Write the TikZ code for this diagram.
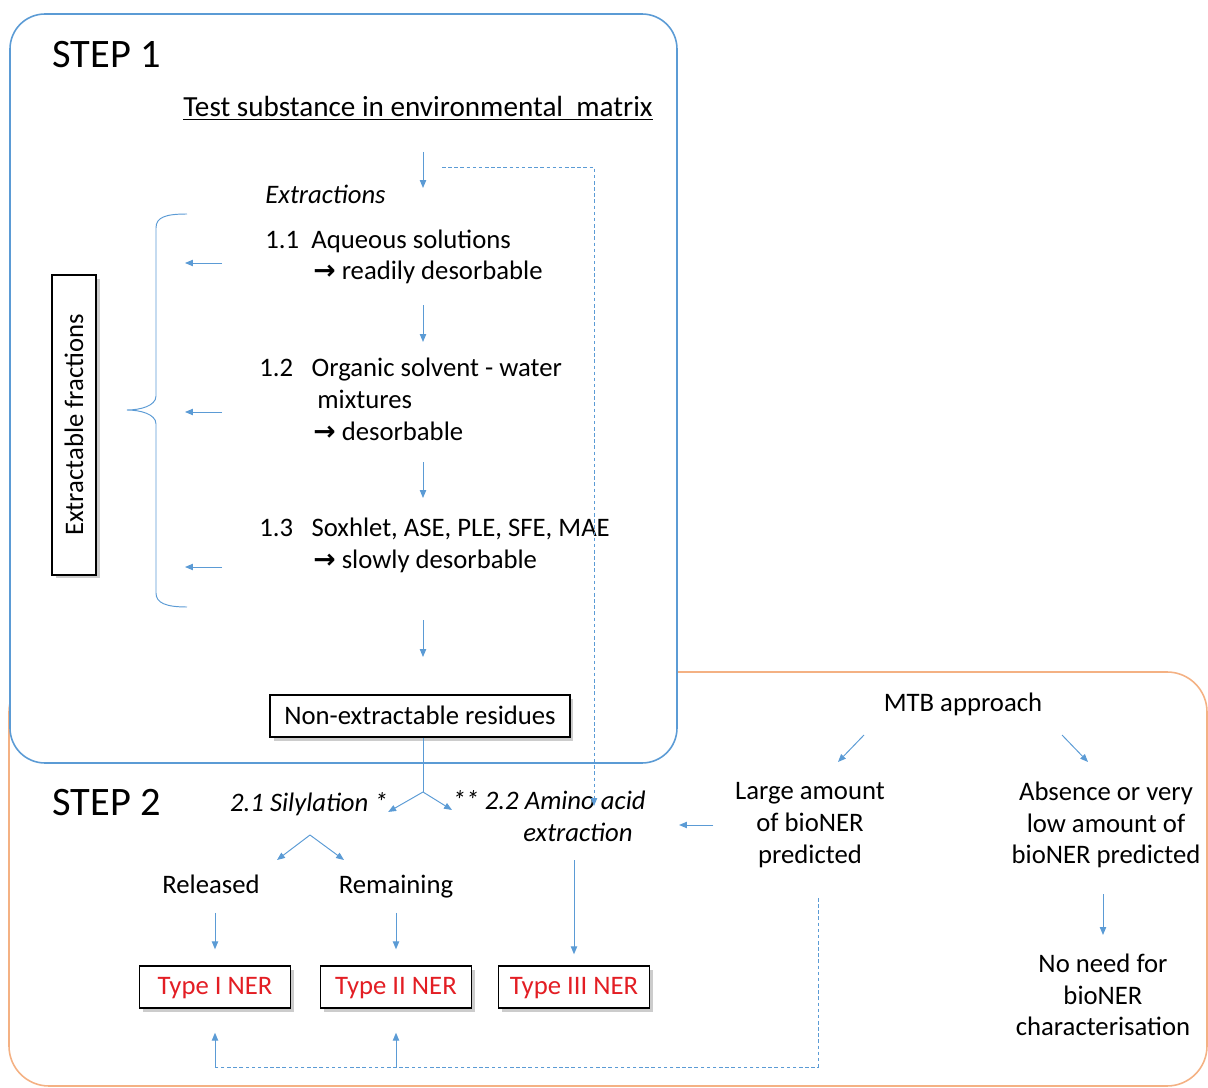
\documentclass[tikz,border=0pt]{standalone}
\usepackage{fontspec}
\usepackage{graphicx}
\setmainfont{Carlito}
\newfontfamily\arrowfont{DejaVu Sans}
\usepackage{tikz}
\usetikzlibrary{arrows.meta}
\usetikzlibrary{shadows}
\definecolor{stepblue}{HTML}{5B9BD5}
\definecolor{linkblue}{HTML}{5B9BD5}
\definecolor{steporange}{HTML}{F4B183}
\definecolor{nerred}{HTML}{E31E24}
\newcommand{\bodyfont}{\fontsize{15.2pt}{18.1pt}\selectfont}
\newcommand{\stepfont}{\fontsize{23pt}{27pt}\selectfont}
\newcommand{\rarr}{{\arrowfont\bfseries →}}

\begin{document}
\begin{tikzpicture}[x=0.02cm,y=-0.02cm]
\tikzstyle{txt}=[inner sep=0pt,font=\bodyfont,text height=9.8pt,text depth=0pt]
\tikzstyle{mtxt}=[inner sep=0pt,font=\bodyfont,align=center]
\tikzstyle{box}=[rectangle,align=center,draw,text depth=.25ex,line width=0.8pt,fill=white,font=\bodyfont,drop shadow={shadow xshift=2pt,shadow yshift=-2pt,opacity=.4}]
\tikzstyle{arr}=[-{Triangle[length=4.5pt,width=3.6pt]},draw=linkblue,line width=0.55pt]
\tikzstyle{dsh}=[draw=linkblue,line width=0.5pt,dash pattern=on 2pt off 1.5pt]
\useasboundingbox (0,0) rectangle (1208,1088);
\draw[steporange,line width=0.9pt,rounded corners=0.8cm] (9,672) rectangle (1207,1086);
\draw[stepblue,line width=0.9pt,rounded corners=0.7cm,fill=white] (10,14) rectangle (677,763);
\node[inner sep=0pt,font=\stepfont,anchor=west] (step1) at (52,55) {STEP 1};
\node[inner sep=0pt,font=\fontsize{16.6pt}{19pt}\selectfont] (test) at (418,108) {\underline{Test substance in environmental\ \ matrix}};
\node[txt,anchor=west] (extr) at (265,195) {\textit{Extractions}};
\node[txt,anchor=west] (l11) at (265,240) {1.1\hspace{7pt}Aqueous solutions};
\node[txt,anchor=west] (l12) at (313,271) {\rarr\ readily desorbable};
\node[txt,anchor=west] (l21) at (259,368) {1.2\hspace{10.5pt}Organic solvent - water};
\node[txt,anchor=west] (l22) at (317,400) {mixtures};
\node[txt,anchor=west] (l23) at (313,432) {\rarr\ desorbable};
\node[txt,anchor=west] (l31) at (259,528) {1.3\hspace{10.5pt}Soxhlet, ASE, PLE, SFE, MAE};
\node[txt,anchor=west] (l32) at (313,560) {\rarr\ slowly desorbable};
\node[box,minimum width=0.88cm,minimum height=6cm,inner sep=0pt,text depth=0pt] (frac) at (74,425) {\rotatebox{90}{Extractable fractions}};
\node[box,minimum width=6cm,minimum height=0.84cm] (nonext) at (420,716) {Non-extractable residues};
\node[inner sep=0pt,font=\stepfont,anchor=west] (step2) at (52,803) {STEP 2};
\node[txt] (sily) at (309,803) {\textit{2.1 Silylation *}};
\node[txt] (amino1) at (549,801) {\textit{** 2.2 Amino acid}};
\node[txt] (amino2) at (578,833) {\textit{extraction}};
\node[txt] (rel) at (211,885) {Released};
\node[txt] (rem) at (396,885) {Remaining};
\node[box,minimum width=3.02cm,minimum height=0.84cm,text=nerred] (t1) at (215,987) {Type I NER};
\node[box,minimum width=3.02cm,minimum height=0.84cm,text=nerred] (t2) at (396,987) {Type II NER};
\node[box,minimum width=3.02cm,minimum height=0.84cm,text=nerred] (t3) at (574,987) {Type III NER};
\node[txt] (mtb) at (963,703) {MTB approach};
\node[mtxt] (large) at (810,825) {Large amount\\of bioNER\\predicted};
\node[mtxt] (absence) at (1106,825) {Absence or very\\low amount of\\bioNER predicted};
\node[mtxt] (noneed) at (1103,995) {No need for\\bioNER\\characterisation};
\coordinate (d0a) at (423,152); \coordinate (d0b) at (423,188);
\coordinate (d1a) at (423,305); \coordinate (d1b) at (423,342);
\coordinate (d2a) at (423,462); \coordinate (d2b) at (423,498);
\coordinate (d3a) at (423,620); \coordinate (d3b) at (423,657);
\coordinate (la1) at (222,263); \coordinate (lb1) at (185,263);
\coordinate (la2) at (222,412); \coordinate (lb2) at (185,412);
\coordinate (la3) at (222,567); \coordinate (lb3) at (185,567);
\coordinate (bt) at (187,214); \coordinate (bm) at (127,410); \coordinate (bb) at (187,607);
\coordinate (ds) at (442,167); \coordinate (dse) at (594,806);
\coordinate (fork) at (423,792);
\coordinate (fork2) at (310,835); \coordinate (f2l) at (277,860); \coordinate (f2r) at (344,860);
\coordinate (m1a) at (864,735); \coordinate (m1b) at (838,762);
\coordinate (m2a) at (1062,735); \coordinate (m2b) at (1088,762);
\coordinate (dl) at (818,898); \coordinate (dbot) at (818,1067);
\draw[arr] (d0a) -- (d0b);
\draw[arr] (d1a) -- (d1b);
\draw[arr] (d2a) -- (d2b);
\draw[arr] (d3a) -- (d3b);
\draw[arr] (la1) -- (lb1);
\draw[arr] (la2) -- (lb2);
\draw[arr] (la3) -- (lb3);
\draw[linkblue,line width=0.55pt] (bt) .. controls (166,214) and (156,217) .. (156,228) -- (156,396) .. controls (156,406) and (140,410) .. (bm) .. controls (140,410) and (156,414) .. (156,424) -- (156,593) .. controls (156,603) and (166,607) .. (bb);
\draw[dsh,-{Triangle[length=4.5pt,width=3.6pt]}] (ds) -| (dse);
\draw[linkblue,line width=0.55pt] (nonext.south -| fork) -- (fork);
\draw[arr] (fork) -- (sily.south east);
\draw[arr] (fork) -- (amino1.south west);
\draw[arr] (fork2) -- (f2l);
\draw[arr] (fork2) -- (f2r);
\draw[arr,shorten <=0.38cm,shorten >=0.32cm] (t1.north |- rel.south) -- (t1.north);
\draw[arr,shorten <=0.38cm,shorten >=0.32cm] (t2.north |- rem.south) -- (t2.north);
\draw[arr,shorten <=0.37cm,shorten >=0.22cm] (t3.north |- amino2.south) -- (t3.north);
\draw[arr,shorten <=0.43cm,shorten >=0.66cm] (large.west) -- (large.west -| amino1.east);
\draw[arr] (m1a) -- (m1b);
\draw[arr] (m2a) -- (m2b);
\draw[arr,shorten <=0.51cm,shorten >=0.37cm] (noneed.north |- absence.south) -- (noneed.north);
\draw[dsh] (dl) -- (dbot) -- (dbot -| t1.south);
\draw[arr,shorten >=0.48cm] (dbot -| t1.south) -- (t1.south);
\draw[arr,shorten >=0.48cm] (dbot -| t2.south) -- (t2.south);
\end{tikzpicture}
\end{document}
